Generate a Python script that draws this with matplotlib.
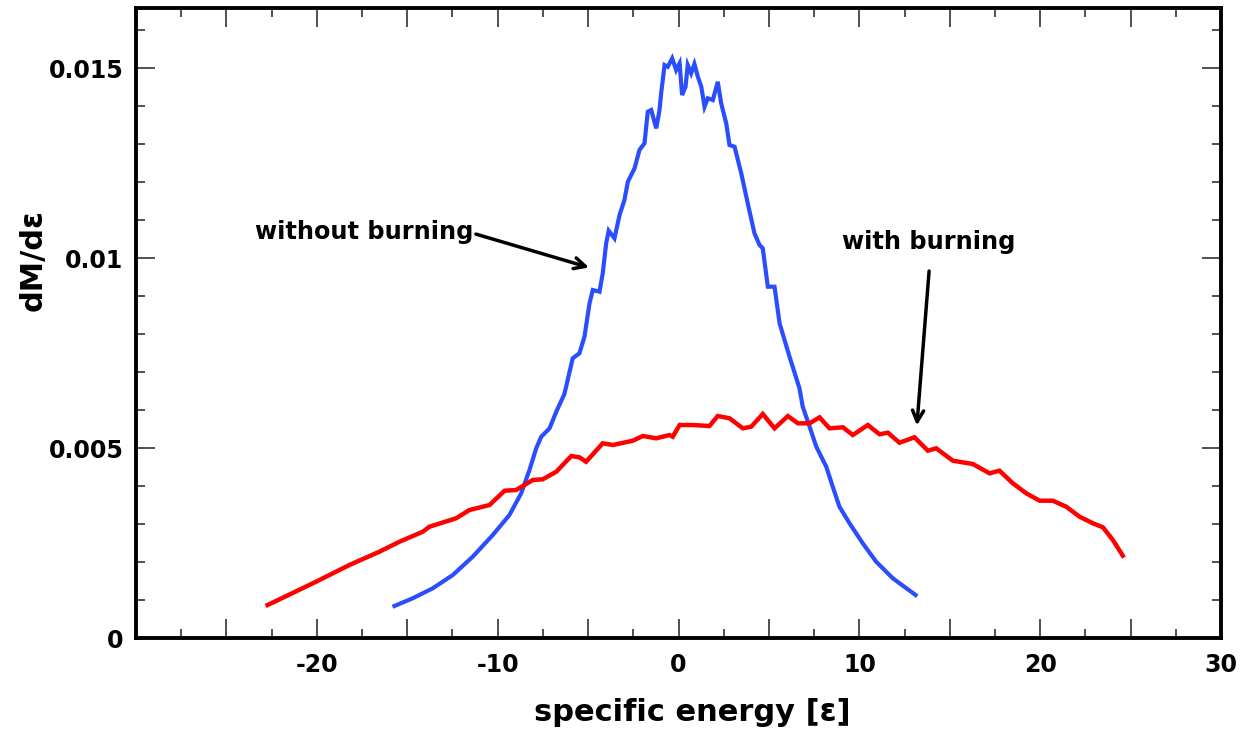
import matplotlib
matplotlib.use("Agg")
import matplotlib.pyplot as plt
from matplotlib.ticker import MultipleLocator, FuncFormatter

# ---- data ----
energy_no_burn = [-15.71, -14.70, -13.59, -12.48, -11.38, -10.27, -9.35, -8.70, -8.24, -7.87,
                  -7.59, -7.13, -6.76, -6.31, -5.85, -5.48, -5.20, -4.92, -4.74, -4.37,
                  -4.19, -4.00, -3.86, -3.54, -3.26, -2.99, -2.80, -2.43, -2.16, -1.88,
                  -1.70, -1.51, -1.23, -1.05, -0.96, -0.77, -0.59, -0.35, -0.13, 0.06,
                  0.20, 0.39, 0.51, 0.70, 0.88, 1.07, 1.26, 1.44, 1.62, 1.90,
                  2.17, 2.36, 2.64, 2.82, 3.10, 3.47, 3.83, 4.20, 4.48, 4.66,
                  4.94, 5.31, 5.59, 6.14, 6.69, 6.87, 7.25, 7.62, 8.17, 8.53,
                  8.90, 9.46, 10.19, 10.93, 11.85, 13.11]
dm_no_burn = [0.000842, 0.001045, 0.001308, 0.001658, 0.002139, 0.002711, 0.003237, 0.003808, 0.004421, 0.004992,
              0.005297, 0.005518, 0.005955, 0.006420, 0.007361, 0.007492, 0.007929, 0.008808, 0.009158, 0.009113,
              0.009597, 0.010387, 0.010718, 0.010518, 0.011132, 0.011526, 0.012008, 0.012361, 0.012842, 0.013018,
              0.013850, 0.013895, 0.013413, 0.013895, 0.014334, 0.015079, 0.015034, 0.015255, 0.014947, 0.015124,
              0.014289, 0.014508, 0.015079, 0.014861, 0.015105, 0.014771, 0.014508, 0.013982, 0.014203, 0.014158,
              0.014639, 0.014071, 0.013545, 0.012974, 0.012929, 0.012229, 0.011439, 0.010650, 0.010342, 0.010255,
              0.009245, 0.009245, 0.008282, 0.007403, 0.006571, 0.006087, 0.005561, 0.005034, 0.004508, 0.003982,
              0.003455, 0.003018, 0.002492, 0.002008, 0.001571, 0.001132]

energy_burn = [-22.72, -20.04, -18.20, -16.54, -15.98, -15.43, -14.14, -13.77, -12.30, -11.56,
               -10.45, -9.62, -8.98, -8.06, -7.51, -6.76, -5.93, -5.48, -5.11, -4.19,
               -3.63, -2.53, -1.97, -1.23, -0.50, -0.32, 0.06, 0.79, 1.71, 2.17,
               2.82, 3.56, 4.02, 4.66, 5.31, 6.05, 6.60, 7.25, 7.80, 8.35,
               9.09, 9.64, 10.47, 11.12, 11.58, 12.22, 13.05, 13.79, 14.25, 15.17,
               16.28, 17.20, 17.75, 18.49, 19.23, 19.97, 20.70, 21.44, 22.18, 22.92,
               23.47, 24.02, 24.57]
dm_burn = [0.000868, 0.001482, 0.001921, 0.002271, 0.002403, 0.002534, 0.002797, 0.002929, 0.003150, 0.003368,
           0.003500, 0.003876, 0.003895, 0.004158, 0.004176, 0.004376, 0.004789, 0.004755, 0.004639, 0.005124,
           0.005079, 0.005192, 0.005316, 0.005255, 0.005342, 0.005297, 0.005605, 0.005605, 0.005579, 0.005842,
           0.005782, 0.005518, 0.005561, 0.005895, 0.005518, 0.005842, 0.005650, 0.005650, 0.005808, 0.005518,
           0.005545, 0.005342, 0.005605, 0.005361, 0.005403, 0.005139, 0.005282, 0.004929, 0.004992, 0.004666,
           0.004579, 0.004334, 0.004403, 0.004071, 0.003808, 0.003613, 0.003613, 0.003455, 0.003192, 0.003018,
           0.002913, 0.002579, 0.002166]

label_no_burn = "without burning"
label_burn = "with burning"
x_label = "specific energy [\u03b5]"
y_label = "dM/d\u03b5"

# ---- figure ----
plt.rcParams['font.family'] = ['DejaVu Sans']
plt.rcParams['font.weight'] = 'bold'

fig = plt.figure(figsize=(12.55, 7.34), dpi=100)
ax = fig.add_axes([136 / 1255, (734 - 638) / 734, 1085 / 1255, 630 / 734])

ax.plot(energy_no_burn, dm_no_burn, color='#2a4dff', lw=3.0, solid_joinstyle='miter')
ax.plot(energy_burn, dm_burn, color='#ff0000', lw=3.2, solid_joinstyle='miter')

ax.set_xlim(-30, 30)
ax.set_ylim(0, 0.01658)

ax.xaxis.set_major_locator(MultipleLocator(5))
ax.xaxis.set_minor_locator(MultipleLocator(2.5))
ax.yaxis.set_major_locator(MultipleLocator(0.005))
ax.yaxis.set_minor_locator(MultipleLocator(0.001))


def xfmt(v, pos):
    if abs(v - round(v / 10) * 10) < 1e-6 and v > -29:
        return ("-" if v < 0 else "") + "%d" % abs(round(v))
    return ""


def yfmt(v, pos):
    return "%g" % round(v, 4)


ax.xaxis.set_major_formatter(FuncFormatter(xfmt))
ax.yaxis.set_major_formatter(FuncFormatter(yfmt))

ax.tick_params(which='both', direction='in', top=True, right=True, width=1.1, color='#222222')
ax.tick_params(which='major', length=13.5, labelsize=17)
ax.tick_params(axis='x', which='major', pad=11)
ax.tick_params(axis='y', which='major', pad=9)
ax.tick_params(which='minor', length=6.5)
for lab in ax.get_xticklabels() + ax.get_yticklabels():
    lab.set_fontweight('bold')

for sp in ax.spines.values():
    sp.set_linewidth(2.8)
    sp.set_color('black')

ax.set_xlabel(x_label, fontsize=22, fontweight='bold', va='center')
ax.xaxis.set_label_coords(0.513, -0.1175)
ax.set_ylabel(y_label, fontsize=22, fontweight='bold', va='center')
ax.yaxis.set_label_coords(-0.095, 0.60)

# annotations
ax.annotate("", xy=(-4.80, 0.00973), xytext=(-11.35, 0.01065),
            arrowprops=dict(arrowstyle='->,head_length=0.8,head_width=0.4', color='black', lw=2.5))
ax.text(-23.42, 0.01068, label_no_burn, fontsize=17.3, fontweight='bold', ha='left', va='center')

ax.annotate("", xy=(13.17, 0.00552), xytext=(13.87, 0.00973),
            arrowprops=dict(arrowstyle='->,head_length=0.8,head_width=0.4', color='black', lw=2.5))
ax.text(9.03, 0.01043, label_burn, fontsize=17.3, fontweight='bold', ha='left', va='center')

fig.savefig("out.png", dpi=100, facecolor='white')
